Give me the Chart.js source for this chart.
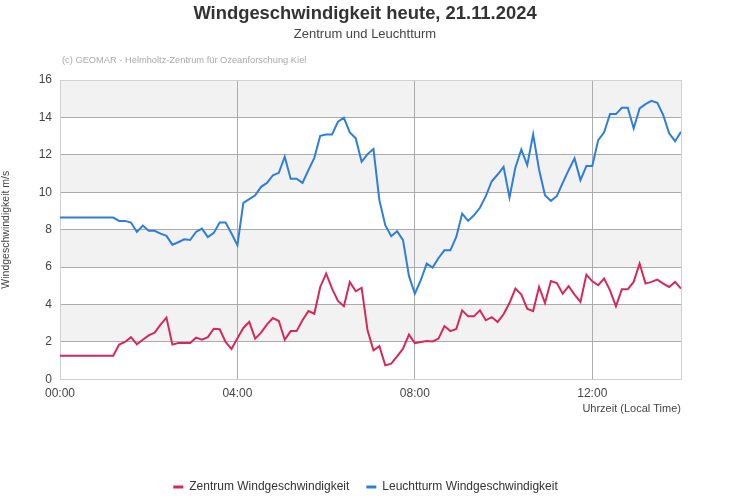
<!DOCTYPE html>
<html>
<head>
<meta charset="utf-8">
<script src="https://cdn.jsdelivr.net/npm/chart.js@4"></script>
<style>
  html, body { margin: 0; padding: 0; background: #fff; }
  #wrap { position: relative; width: 731px; height: 500px; }
</style>
</head>
<body>
<div id="wrap"><canvas id="windChart"></canvas></div>
<script>
/* ===== DATA (8-minute values, 00:00 - 14:00) ===== */

const zentrum = [
  1.27, 1.27, 1.27, 1.27, 1.27, 1.27, 1.27, 1.27, 1.27, 1.27,
  1.86, 2.0, 2.26, 1.87, 2.12, 2.35, 2.5, 2.93, 3.3, 1.86,
  1.94, 1.94, 1.94, 2.23, 2.12, 2.26, 2.71, 2.68, 2.0, 1.62,
  2.2, 2.75, 3.07, 2.18, 2.5, 2.94, 3.28, 3.12, 2.12, 2.58,
  2.58, 3.16, 3.65, 3.51, 4.94, 5.66, 4.85, 4.19, 3.91, 5.21,
  4.71, 4.89, 2.62, 1.55, 1.78, 0.75, 0.84, 1.23, 1.64, 2.39,
  1.94, 2.0, 2.05, 2.03, 2.18, 2.85, 2.58, 2.69, 3.69, 3.37,
  3.37, 3.69, 3.16, 3.33, 3.07, 3.48, 4.08, 4.85, 4.53, 3.78,
  3.65, 4.94, 4.08, 5.26, 5.15, 4.58, 4.98, 4.53, 4.14, 5.6,
  5.24, 5.03, 5.39, 4.76, 3.91, 4.82, 4.82, 5.21, 6.19, 5.12,
  5.21, 5.33, 5.12, 4.94, 5.21, 4.85
];

const leuchtturm = [
  8.65, 8.65, 8.65, 8.65, 8.65, 8.65, 8.65, 8.65, 8.65, 8.65,
  8.47, 8.47, 8.38, 7.88, 8.22, 7.94, 7.94, 7.79, 7.67, 7.2,
  7.33, 7.49, 7.45, 7.88, 8.06, 7.61, 7.83, 8.38, 8.38, 7.8,
  7.17, 9.43, 9.63, 9.84, 10.29, 10.5, 10.91, 11.04, 11.9, 10.72,
  10.72, 10.5, 11.18, 11.84, 13.02, 13.09, 13.09, 13.77, 13.98, 13.2,
  12.88, 11.63, 12.04, 12.31, 9.58, 8.24, 7.65, 7.92, 7.44, 5.53,
  4.58, 5.3, 6.19, 5.98, 6.49, 6.9, 6.9, 7.61, 8.86, 8.47,
  8.77, 9.17, 9.79, 10.59, 10.95, 11.36, 9.72, 11.33, 12.29, 11.45,
  13.09, 11.22, 9.84, 9.54, 9.79, 10.5, 11.18, 11.81, 10.65, 11.4,
  11.4, 12.79, 13.2, 14.18, 14.18, 14.52, 14.52, 13.41, 14.48, 14.71,
  14.89, 14.78, 14.12, 13.15, 12.73, 13.23
];

const xTickLabels = ["00:00", "04:00", "08:00", "12:00"];
const seriesNames = ["Zentrum Windgeschwindigkeit", "Leuchtturm Windgeschwindigkeit"];

// time labels every 8 minutes
const times = zentrum.map((_, i) => {
  const m = i * 8;
  return String(Math.floor(m / 60)).padStart(2, "0") + ":" + String(m % 60).padStart(2, "0");
});

const FONT = "Arial, 'Liberation Sans', sans-serif";
const NARROW = "'Liberation Sans Narrow', 'Arial Narrow', Arial, sans-serif";

/* ===== PLUGINS ===== */

// alternating bands + texts above the plot
const decor = {
  id: "decor",
  beforeDraw(chart) {
    const { ctx, chartArea: a, scales: { y } } = chart;
    ctx.save();
    ctx.fillStyle = "#f2f2f2";
    [[2, 4], [6, 8], [10, 12], [14, 16]].forEach(([lo, hi]) => {
      const top = y.getPixelForValue(hi);
      const bot = y.getPixelForValue(lo);
      ctx.fillRect(a.left, top, a.right - a.left, bot - top);
    });
    ctx.restore();
  },
  afterDraw(chart) {
    const { ctx, chartArea: a } = chart;
    ctx.save();
    ctx.textAlign = "center";
    ctx.textBaseline = "alphabetic";
    ctx.fillStyle = "#333";
    ctx.font = "bold 18.4px " + NARROW;
    ctx.fillText("Windgeschwindigkeit heute, 21.11.2024", 365, 19);
    ctx.fillStyle = "#444";
    ctx.font = "13px " + FONT;
    ctx.fillText("Zentrum und Leuchtturm", 365, 38);
    ctx.textAlign = "left";
    ctx.fillStyle = "#aaa";
    ctx.font = "9.3px " + FONT;
    ctx.fillText("(c) GEOMAR - Helmholtz-Zentrum für Ozeanforschung Kiel", 62, 63);
    // right border of plot
    ctx.strokeStyle = "#d0d0d0";
    ctx.lineWidth = 1;
    ctx.beginPath();
    ctx.moveTo(Math.round(a.right) + 0.5, a.top);
    ctx.lineTo(Math.round(a.right) + 0.5, a.bottom);
    ctx.stroke();
    ctx.restore();
  }
};

/* ===== CHART ===== */

new Chart(document.getElementById("windChart"), {
  type: "line",
  data: {
    labels: times,
    datasets: [
      {
        label: seriesNames[0],
        data: zentrum,
        borderColor: "#d42a5b",
        backgroundColor: "#d42a5b",
        borderWidth: 2,
        pointRadius: 0,
        tension: 0,
      },
      {
        label: seriesNames[1],
        data: leuchtturm,
        borderColor: "#2f7ed8",
        backgroundColor: "#2f7ed8",
        borderWidth: 2,
        pointRadius: 0,
        tension: 0,
      },
    ],
  },
  options: {
    responsive: true,
    maintainAspectRatio: false,
    animation: false,
    layout: { padding: { top: 80, right: 0, bottom: -3, left: 0 } },
    scales: {
      x: {
        type: "category",
        offset: false,
        grid: {
          drawTicks: false,
          color: ctx => {
            const lbl = times[ctx.index];
            return xTickLabels.includes(lbl) && ctx.index !== 0 ? "#ababab" : "rgba(0,0,0,0)";
          },
        },
        border: { color: "#d0d0d0" },
        ticks: {
          autoSkip: false,
          maxRotation: 0,
          padding: 7,
          color: "#444",
          font: { family: FONT, size: 12 },
          callback(v, i) {
            const lbl = times[i];
            return xTickLabels.includes(lbl) ? lbl : "";
          },
        },
        title: {
          display: true,
          text: "Uhrzeit (Local Time)",
          align: "end",
          color: "#444",
          font: { family: FONT, size: 11 },
          padding: { top: -5, bottom: 48 },
        },
      },
      y: {
        min: 0,
        max: 16,
        afterFit(scale) { scale.width = 60; },
        grid: {
          drawTicks: false,
          color: ctx => (ctx.tick.value === 0 || ctx.tick.value === 16 ? "#d0d0d0" : "#ababab"),
        },
        border: { color: "#d0d0d0" },
        ticks: {
          stepSize: 2,
          padding: 8,
          color: "#444",
          font: { family: FONT, size: 12 },
        },
        title: {
          display: true,
          text: "Windgeschwindigkeit m/s",
          color: "#444",
          font: { family: FONT, size: 10.5 },
          padding: { top: 0, bottom: 0 },
        },
      },
      // empty right-hand spacer so the legend stays centred on the page
      spacer: {
        position: "right",
        afterFit(scale) { scale.width = 50; },
        grid: { display: false },
        border: { display: false },
        ticks: { display: false },
      },
    },
    plugins: {
      legend: {
        position: "bottom",
        labels: {
          boxWidth: 10,
          boxHeight: 3,
          padding: 17,
          color: "#333",
          font: { family: FONT, size: 12 },
          generateLabels(chart) {
            return Chart.defaults.plugins.legend.labels.generateLabels(chart)
              .map(l => ({ ...l, lineWidth: 0 }));
          },
        },
      },
      tooltip: { enabled: false },
    },
  },
  plugins: [decor],
});
</script>
</body>
</html>
